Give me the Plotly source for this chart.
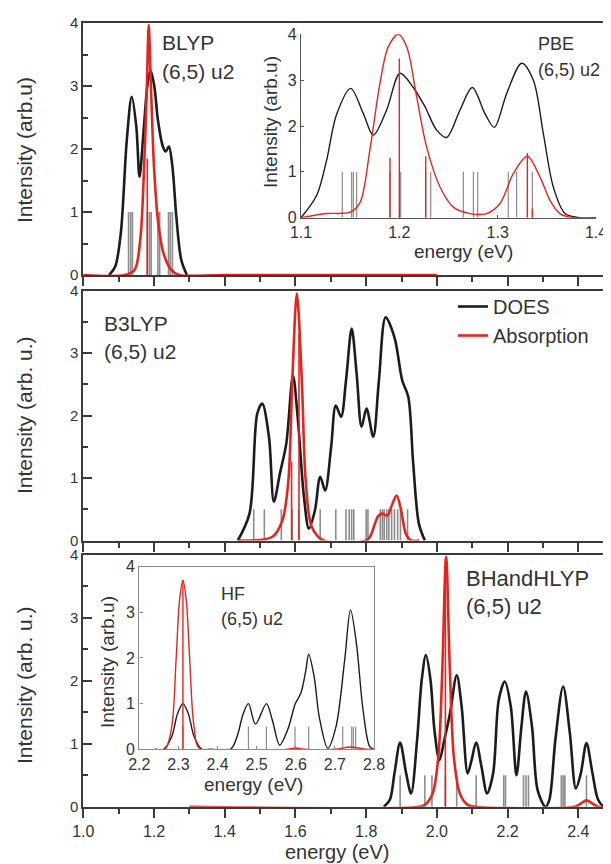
import plotly.graph_objects as go

# page has an 8 px body margin: the figure is sized so it ends exactly at the window edge
OFF = 8
W, H = 611 - OFF, 864 - OFF

# ---------------- data ----------------
# Panel 1: BLYP (6,5) u2
blyp_does_e = [1.073, 1.090, 1.106, 1.123, 1.137, 1.150, 1.159, 1.170, 1.181, 1.190, 1.201, 1.211,
               1.225, 1.233, 1.242, 1.252, 1.263, 1.277, 1.293]
blyp_does_i = [0, 0.13, 0.66, 2.14, 2.83, 2.35, 1.56, 2.25, 2.99, 3.25, 2.99, 2.46,
               2.04, 1.96, 2.04, 1.72, 0.93, 0.24, 0]
blyp_abs_e = [1.0, 1.117, 1.145, 1.161, 1.172, 1.180, 1.185, 1.191, 1.200, 1.211, 1.227, 1.249, 1.271, 1.4, 2.0]
blyp_abs_i = [0, 0, 0.08, 0.56, 1.72, 3.04, 3.97, 3.04, 1.72, 0.87, 0.34, 0.08, 0, 0, 0]
blyp_stick_e = [1.128, 1.134, 1.139, 1.181, 1.187, 1.192, 1.211, 1.216, 1.241, 1.246, 1.252]
blyp_stick_i = [1.0] * 11
blyp_red_stick_e = [1.181]
blyp_red_stick_i = [1.85]

# Inset: PBE (6,5) u2
pbe_does_e = [1.100, 1.116, 1.126, 1.136, 1.1505, 1.1634, 1.1736, 1.1871, 1.2007, 1.2142, 1.2261, 1.238,
              1.2481, 1.2617, 1.2742, 1.2871, 1.2966, 1.3092, 1.3244, 1.3363, 1.3464, 1.3566, 1.3685,
              1.3837, 1.4]
pbe_does_i = [0, 0.49, 1.25, 2.24, 2.82, 2.27, 1.80, 2.35, 3.15, 2.84, 2.42, 1.91,
              1.75, 2.35, 2.84, 2.27, 1.97, 2.71, 3.37, 3.0, 1.84, 0.67, 0.09,
              0, 0]
pbe_abs_e = [1.1, 1.126, 1.15, 1.16, 1.170, 1.1803, 1.1888, 1.199, 1.2075, 1.2176, 1.2278, 1.2414,
             1.2549, 1.2719, 1.2888, 1.3024, 1.3159, 1.3302, 1.343, 1.3532, 1.3634, 1.377, 1.4]
pbe_abs_i = [0, 0.09, 0.12, 0.33, 1.47, 2.93, 3.73, 4.0, 3.73, 2.64, 1.54, 0.67,
             0.23, 0.09, 0.09, 0.31, 0.96, 1.34, 0.89, 0.38, 0.09, 0, 0]
pbe_stick_e = [1.142, 1.1515, 1.1532, 1.1566, 1.1905, 1.2014, 1.2268, 1.2319, 1.2651, 1.2753,
               1.2797, 1.3108, 1.3193, 1.3353]
pbe_stick_i = [1.0] * 14
pbe_red_stick_e = [1.1905, 1.2, 1.2268, 1.3302, 1.3353]
pbe_red_stick_i = [1.31, 3.47, 1.34, 1.41, 0.2]

# Panel 2: B3LYP (6,5) u2
b3lyp_does_e = [1.437, 1.470, 1.492, 1.506, 1.525, 1.539, 1.556, 1.574, 1.593, 1.607, 1.624, 1.638,
                1.655, 1.670, 1.684, 1.701, 1.714, 1.729, 1.743, 1.759, 1.773, 1.787, 1.801, 1.820,
                1.836, 1.855, 1.880, 1.902, 1.919, 1.933, 1.949, 1.966]
b3lyp_does_i = [0, 0.43, 2.03, 2.19, 1.66, 0.62, 1.07, 1.55, 2.64, 1.92, 0.70, 0.19,
                0.48, 1.02, 0.80, 1.50, 2.16, 1.98, 2.56, 3.39, 2.67, 1.82, 2.11, 1.66,
                2.56, 3.57, 3.25, 2.56, 2.30, 1.23, 0.27, 0]
b3lyp_abs_e = [1.437, 1.535, 1.563, 1.580, 1.591, 1.604, 1.618, 1.629, 1.646, 1.679, 1.800, 1.811,
               1.833, 1.844, 1.860, 1.871, 1.886, 1.899, 1.912, 1.927, 1.95]
b3lyp_abs_i = [0, 0.06, 0.32, 0.96, 2.56, 3.95, 2.56, 0.96, 0.22, 0, 0, 0.06,
               0.38, 0.43, 0.40, 0.54, 0.72, 0.48, 0.11, 0, 0]
b3lyp_stick_e = [1.482, 1.512, 1.560, 1.591, 1.609, 1.670, 1.714, 1.743, 1.752, 1.759, 1.765, 1.800,
                 1.805, 1.840, 1.846, 1.851, 1.858, 1.864, 1.872, 1.880, 1.889, 1.897, 1.917]
b3lyp_stick_i = [0.5] * 23
b3lyp_red_stick_e = [1.589, 1.610]
b3lyp_red_stick_i = [1.26, 3.31]

# Panel 3: BHandHLYP (6,5) u2
bh_does_e = [1.850, 1.867, 1.880, 1.896, 1.913, 1.927, 1.944, 1.957, 1.969, 1.982, 1.993, 2.007,
             2.021, 2.037, 2.056, 2.070, 2.087, 2.098, 2.111, 2.126, 2.142, 2.159, 2.175, 2.192,
             2.209, 2.225, 2.239, 2.252, 2.269, 2.285, 2.307, 2.318, 2.335, 2.357, 2.376, 2.393,
             2.407, 2.423, 2.440, 2.456, 2.473, 2.492]
bh_does_i = [0, 0.11, 0.53, 1.02, 0.53, 0.21, 1.06, 2.01, 2.41, 2.01, 1.22, 0.74,
             1.06, 1.48, 2.09, 1.59, 0.53, 0.74, 1.02, 0.64, 0.21, 0.53, 1.70, 1.99,
             1.59, 0.50, 1.27, 1.83, 1.27, 0.26, 0, 0.11, 1.06, 1.91, 1.17, 0.29,
             0.53, 1.01, 0.53, 0.11, 0, 0]
bh_abs_e = [1.3, 1.95, 1.966, 1.988, 2.004, 2.015, 2.026, 2.037, 2.048, 2.065, 2.087, 2.11,
            2.39, 2.407, 2.423, 2.44, 2.456, 2.492]
bh_abs_i = [0, 0, 0.03, 0.21, 0.79, 2.12, 3.97, 2.12, 0.79, 0.21, 0.03, 0,
            0, 0.05, 0.1, 0.05, 0, 0]
bh_stick_e = [1.896, 1.966, 1.986, 2.024, 2.056, 2.111, 2.189, 2.194, 2.245, 2.252, 2.259, 2.352,
              2.357, 2.362, 2.423]
bh_stick_i = [0.5] * 15
bh_red_stick_e = [2.024]
bh_red_stick_i = [3.5]

# Inset: HF (6,5) u2
hf_does_e = [2.24, 2.262, 2.283, 2.298, 2.3115, 2.325, 2.340, 2.360, 2.38, 2.433, 2.450, 2.466,
             2.479, 2.497, 2.525, 2.540, 2.559, 2.579, 2.599, 2.613, 2.626, 2.633, 2.647, 2.660,
             2.682, 2.703, 2.725, 2.740, 2.755, 2.772, 2.789, 2.8]
hf_does_i = [0, 0, 0.28, 0.79, 1.0, 0.79, 0.28, 0, 0, 0, 0.28, 0.79,
             1.0, 0.55, 1.0, 0.64, 0.09, 0.42, 1.0, 1.23, 1.74, 2.08, 1.59, 0.71,
             0.02, 0.5, 1.95, 3.05, 2.32, 0.86, 0.06, 0]
hf_abs_e = [2.24, 2.266, 2.283, 2.294, 2.303, 2.3115, 2.320, 2.329, 2.340, 2.356, 2.58, 2.6, 2.62,
            2.70, 2.74, 2.78, 2.8]
hf_abs_i = [0, 0, 0.5, 1.95, 3.27, 3.7, 3.27, 1.95, 0.5, 0, 0, 0.03, 0,
            0, 0.05, 0, 0]
hf_stick_e = [2.3115, 2.479, 2.525, 2.598, 2.633, 2.720, 2.743, 2.747, 2.753]
hf_stick_i = [0.5] * 9
hf_red_stick_e = [2.3115]
hf_red_stick_i = [3.7]

main_ticks = ["1.0", "1.2", "1.4", "1.6", "1.8", "2.0", "2.2", "2.4"]

# ---------------- styling ----------------
FONT = "Liberation Sans, Arial, sans-serif"
TXT = "#333333"
AX = "#3a3a3a"
BLACK = "#1c1c1c"
RED = "#e8231c"
GRAY = "#8c8c8c"


def px_x(p):
    return (p - OFF) / W


def px_y(p):
    return 1 - (p - OFF) / H


fig = go.Figure()


def sticks(e, h, color, width, xa, ya):
    xs, ys = [], []
    for ee, hh in zip(e, h):
        xs += [ee, ee, None]
        ys += [0, hh, None]
    fig.add_trace(go.Scatter(x=xs, y=ys, mode="lines", line=dict(color=color, width=width),
                             xaxis=xa, yaxis=ya, showlegend=False, hoverinfo="skip"))


def curve(e, i, color, width, xa, ya, name=None, legend=False):
    fig.add_trace(go.Scatter(x=e, y=i, mode="lines", name=name,
                             line=dict(color=color, width=width, shape="spline", smoothing=0.9),
                             xaxis=xa, yaxis=ya, showlegend=legend))


# panel 1
sticks(blyp_stick_e, blyp_stick_i, GRAY, 1.6, "x", "y")
curve(blyp_does_e, blyp_does_i, BLACK, 2.6, "x", "y")
curve(blyp_abs_e, blyp_abs_i, RED, 2.6, "x", "y")
sticks(blyp_red_stick_e, blyp_red_stick_i, RED, 1.6, "x", "y")
# panel 2
sticks(b3lyp_stick_e, b3lyp_stick_i, GRAY, 1.6, "x2", "y2")
curve(b3lyp_does_e, b3lyp_does_i, BLACK, 2.6, "x2", "y2", "DOES", True)
curve(b3lyp_abs_e, b3lyp_abs_i, RED, 2.6, "x2", "y2", "Absorption", True)
sticks(b3lyp_red_stick_e, b3lyp_red_stick_i, RED, 1.6, "x2", "y2")
# panel 3
sticks(bh_stick_e, bh_stick_i, GRAY, 1.6, "x3", "y3")
curve(bh_does_e, bh_does_i, BLACK, 2.6, "x3", "y3")
curve(bh_abs_e, bh_abs_i, RED, 2.6, "x3", "y3")
sticks(bh_red_stick_e, bh_red_stick_i, RED, 1.6, "x3", "y3")
# PBE inset
sticks(pbe_stick_e, pbe_stick_i, GRAY, 1.2, "x4", "y4")
curve(pbe_does_e, pbe_does_i, BLACK, 1.4, "x4", "y4")
curve(pbe_abs_e, pbe_abs_i, RED, 1.4, "x4", "y4")
sticks(pbe_red_stick_e, pbe_red_stick_i, RED, 1.4, "x4", "y4")
# HF inset
sticks(hf_stick_e, hf_stick_i, GRAY, 1.2, "x5", "y5")
curve(hf_does_e, hf_does_i, BLACK, 1.4, "x5", "y5")
curve(hf_abs_e, hf_abs_i, RED, 1.4, "x5", "y5")
sticks(hf_red_stick_e, hf_red_stick_i, RED, 1.4, "x5", "y5")

# ---------------- axes ----------------
x_dom = [px_x(83.3), 1.0]
x_rng = [1.0, 1.0 + (611 - 83.3) / 353.6]
panels = [(23, 275), (290.5, 540.5), (555, 806.7)]

tick_vals = [float(t) for t in main_ticks]


def main_x(show_labels, anchor):
    return dict(domain=x_dom, range=x_rng, anchor=anchor, showgrid=False, zeroline=False,
                automargin=False,
                showline=True, linecolor=AX, linewidth=2, mirror=True,
                ticks="outside", ticklen=9, tickwidth=2, tickcolor=AX,
                tickvals=tick_vals, ticktext=main_ticks, showticklabels=show_labels,
                tickfont=dict(family=FONT, size=16, color=TXT),
                minor=dict(dtick=0.1, ticks="outside", ticklen=5, tickwidth=1.6, tickcolor=AX))


def main_y(top, bot, anchor):
    return dict(domain=[px_y(bot), px_y(top)], range=[0, 4], anchor=anchor, showgrid=False,
                zeroline=False, showline=True, linecolor=AX, linewidth=2, automargin=False,
                ticks="inside", ticklen=9, tickwidth=2, tickcolor=AX, dtick=1,
                tickfont=dict(family=FONT, size=15, color=TXT),
                minor=dict(dtick=0.5, ticks="inside", ticklen=5, tickwidth=1.6, tickcolor=AX))


def inset_axis(dom, rng, anchor, dtick, color, mirror, fmt=None):
    d = dict(domain=dom, range=rng, anchor=anchor, showgrid=False, zeroline=False,
             showline=True, linecolor=color, linewidth=1.4, mirror=mirror, automargin=False,
             ticks="inside", ticklen=3, tickcolor=color, dtick=dtick,
             tickfont=dict(family=FONT, size=16, color=TXT))
    if fmt:
        d["tickformat"] = fmt
    return d


layout = dict(
    width=W, height=H, margin=dict(l=0, r=0, t=0, b=0, autoexpand=False),
    paper_bgcolor="white", plot_bgcolor="rgba(0,0,0,0)",
    font=dict(family=FONT, color=TXT),
    xaxis=main_x(False, "y"), yaxis=main_y(*panels[0], "x"),
    xaxis2=main_x(False, "y2"), yaxis2=main_y(*panels[1], "x2"),
    xaxis3=main_x(True, "y3"), yaxis3=main_y(*panels[2], "x3"),
    xaxis4=inset_axis([px_x(301), px_x(596)], [1.1, 1.4], "y4", 0.1, "#555555", False, ".1f"),
    yaxis4=inset_axis([px_y(217.7), px_y(34.3)], [0, 4], "x4", 1, "#555555", False),
    xaxis5=inset_axis([px_x(139.3), px_x(374)], [2.2, 2.8], "y5", 0.1, "#8a8a8a", True, ".1f"),
    yaxis5=inset_axis([px_y(749.3), px_y(566.5)], [0, 4], "x5", 1, "#8a8a8a", True),
    legend=dict(x=px_x(453), y=px_y(287), xanchor="left", yanchor="top",
                bgcolor="rgba(0,0,0,0)", borderwidth=0, tracegroupgap=0,
                font=dict(family=FONT, size=20, color=TXT)),
    showlegend=True,
)
fig.update_layout(**layout)


def label(text, x, y, size, angle=0, xanchor="left"):
    fig.add_annotation(text=text, x=px_x(x), y=px_y(y), xref="paper", yref="paper",
                       xanchor=xanchor, yanchor="middle", showarrow=False, textangle=angle,
                       font=dict(family=FONT, size=size, color=TXT))


# panel labels
label("BLYP", 160, 43, 21)
label("(6,5) u2", 160, 71, 21)
label("B3LYP", 102, 323, 21)
label("(6,5) u2", 102, 351, 21)
label("BHandHLYP", 464, 578, 22)
label("(6,5) u2", 464, 606, 22)
label("PBE", 536, 44, 18)
label("(6,5) u2", 536, 70, 18)
label("HF", 219, 594, 18)
label("(6,5) u2", 219, 619, 18)

# axis titles
label("Intensity (arb.u)", 24, 150, 21, -90, "center")
label("Intensity (arb. u.)", 24, 415, 21, -90, "center")
label("Intensity (arb. u.)", 24, 685, 21, -90, "center")
label("energy (eV)", 337, 852, 20, 0, "center")
label("Intensity (arb.u)", 271, 122, 19, -90, "center")
label("energy (eV)", 463, 252, 19, 0, "center")
label("Intensity (arb.u)", 107, 662, 19, -90, "center")
label("energy (eV)", 254, 784, 19, 0, "center")

fig.write_html("out.html")
